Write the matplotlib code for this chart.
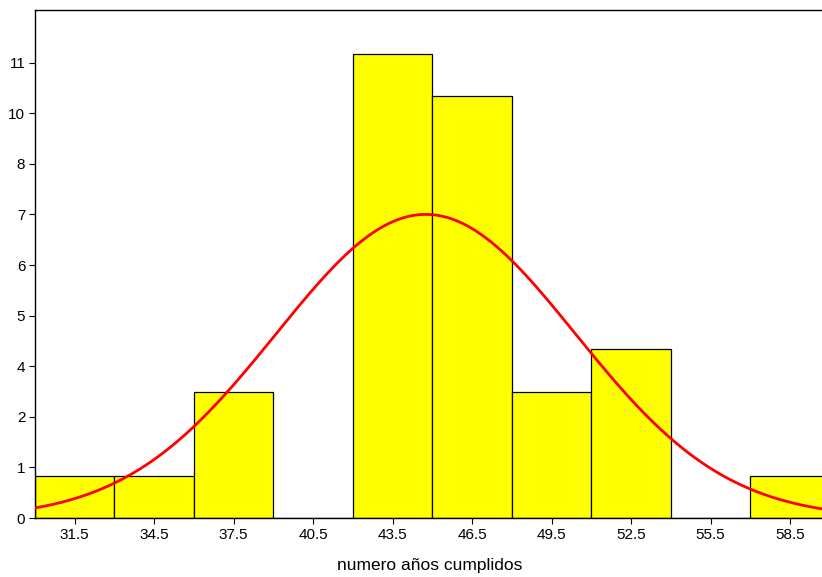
import numpy as np
import matplotlib
matplotlib.use("Agg")
import matplotlib.pyplot as plt

plt.rcParams['font.family'] = ['Liberation Sans', 'DejaVu Sans']

bin_edges = [30, 33, 36, 39, 42, 45, 48, 51, 54, 57, 60]
frequencies = [1, 1, 3, 0, 11, 10, 3, 4, 0, 1]
x_ticks = [31.5, 34.5, 37.5, 40.5, 43.5, 46.5, 49.5, 52.5, 55.5, 58.5]
y_ticks = [0, 1.2, 2.4, 3.6, 4.8, 6.0, 7.2, 8.4, 9.6, 10.8]
y_tick_labels = ['0', '1', '2', '4', '5', '6', '7', '8', '10', '11']
curve_mean = 44.75
curve_sd = 5.65
n_total = sum(frequencies)
bin_width = 3

fig = plt.figure(figsize=(8.22, 5.77), dpi=100)
ax = fig.add_axes([35/822, 59/577, 1 - 35/822 + 0.002, (518 - 10)/577])

ax.bar(bin_edges[:-1], frequencies, width=bin_width, align='edge',
       color='#ffff00', edgecolor='black', linewidth=0.9, zorder=2)

xs = np.linspace(bin_edges[0], bin_edges[-1], 400)
ys = n_total * bin_width / (curve_sd * np.sqrt(2 * np.pi)) * np.exp(-0.5 * ((xs - curve_mean) / curve_sd) ** 2)
ax.plot(xs, ys, color='#ff0000', linewidth=2.0, zorder=3)

ax.set_xlim(30, 59.77)
ax.set_ylim(0, 12.05)
ax.set_xticks(x_ticks)
ax.set_xticklabels([str(v) for v in x_ticks])
ax.set_yticks(y_ticks)
ax.set_yticklabels(y_tick_labels)
ax.tick_params(axis='both', direction='out', length=4, width=0.8, labelsize=11, pad=3)
for s in ['left', 'top', 'bottom']:
    ax.spines[s].set_linewidth(1.0)
ax.spines['right'].set_visible(False)
ax.set_xlabel('numero años cumplidos', fontsize=12.5, labelpad=12)

fig.savefig('out.png', dpi=100)
